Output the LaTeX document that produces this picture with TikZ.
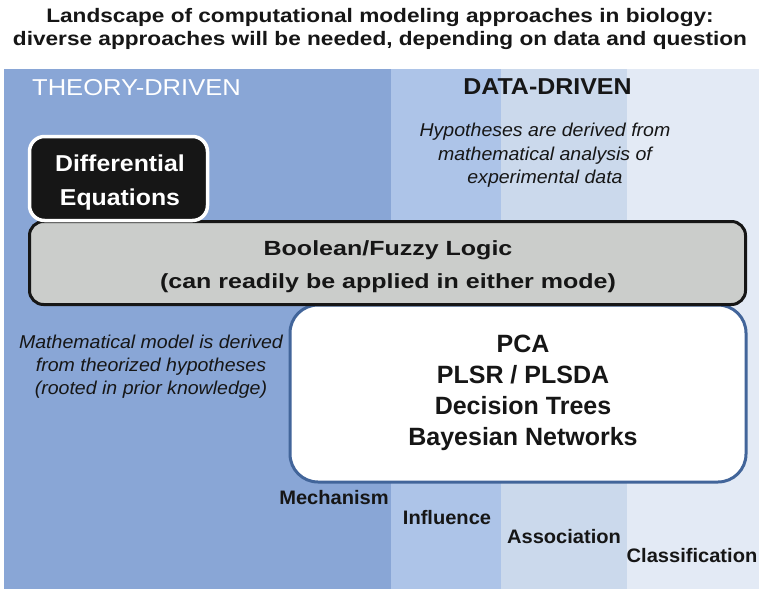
\documentclass[tikz,border=0pt]{standalone}
\usepackage{graphicx}
\usepackage{fontspec}
\setmainfont{Liberation Sans}
\definecolor{bandA}{RGB}{137,166,214}
\definecolor{bandB}{RGB}{173,196,232}
\definecolor{bandC}{RGB}{203,217,236}
\definecolor{bandD}{RGB}{227,234,245}
\definecolor{boxgrey}{RGB}{203,205,203}
\definecolor{boxblue}{RGB}{66,101,154}
\definecolor{ink}{RGB}{22,22,22}
\newcommand{\stretchtext}[2]{\scalebox{#1}[1]{\begin{tabular}{@{}c@{}}#2\end{tabular}}}
\tikzset{
  plaintext/.style={inner sep=0pt, text=ink},
}
\begin{document}
\begin{tikzpicture}[x=1pt,y=-1pt]
\useasboundingbox (0,0) rectangle (759,589);
\fill[white] (0,0) rectangle (759,589);
% bands
\fill[bandA] (4,69) rectangle (391,589);
\fill[bandB] (391,69) rectangle (501,589);
\fill[bandC] (501,69) rectangle (627,589);
\fill[bandD] (627,69) rectangle (759,589);
% title
\node[plaintext] (title) at (380,29) {\fontsize{19.5}{23}\selectfont\bfseries\stretchtext{1.16}{Landscape of computational modeling approaches in biology:\\diverse approaches will be needed, depending on data and question}};
% headings
\node[plaintext, text=white, anchor=west] (theory) at (32,91) {\fontsize{23}{24}\selectfont\stretchtext{1.11}{THEORY-DRIVEN}};
\node[plaintext] (data) at (547.5,90) {\fontsize{23}{24}\selectfont\bfseries\stretchtext{1.085}{DATA-DRIVEN}};
\node[plaintext] (datadesc) at (545,155.5) {\fontsize{18.6}{23.5}\selectfont\itshape\stretchtext{1.05}{Hypotheses are derived from\\mathematical analysis of\\experimental data}};
\node[plaintext] (theorydesc) at (151,367) {\fontsize{18.6}{23}\selectfont\itshape\stretchtext{1.05}{Mathematical model is derived\\from theorized hypotheses\\(rooted in prior knowledge)}};
% white box
\node[draw=boxblue, line width=3pt, fill=white, rounded corners=28pt, minimum width=456pt, minimum height=177pt, inner sep=0pt] (ml) at (518,393.5) {};
\node[plaintext] (mltext) at (523,393) {\fontsize{25}{31}\selectfont\bfseries\stretchtext{1.0}{PCA\\PLSR / PLSDA\\Decision Trees\\Bayesian Networks}};
% boolean box
\node[draw=ink, line width=3pt, fill=boxgrey, rounded corners=14pt, minimum width=716pt, minimum height=83pt, inner sep=0pt] (bool) at (387.5,263) {};
\node[plaintext] (booltext) at (388,265.5) {\fontsize{20.5}{33}\selectfont\bfseries\stretchtext{1.22}{Boolean/Fuzzy Logic\\(can readily be applied in either mode)}};
% differential equations
\node[draw=white, line width=3.5pt, fill=ink, rounded corners=15pt, minimum width=178pt, minimum height=84pt, inner sep=0pt] (diff) at (118.5,178.5) {};
\node[plaintext, text=white] (difftext) at (120,182) {\fontsize{23}{34}\selectfont\bfseries\stretchtext{1.08}{Differential\\Equations}};
% axis labels
\node[plaintext] (mech) at (334,500) {\fontsize{19.5}{20}\selectfont\bfseries\stretchtext{1.03}{Mechanism}};
\node[plaintext] (infl) at (447,520) {\fontsize{19.5}{20}\selectfont\bfseries\stretchtext{1.03}{Influence}};
\node[plaintext] (assoc) at (564,539) {\fontsize{19.5}{20}\selectfont\bfseries\stretchtext{1.03}{Association}};
\node[plaintext] (class) at (692,558) {\fontsize{19.5}{20}\selectfont\bfseries\stretchtext{1.03}{Classification}};
\end{tikzpicture}
\end{document}
